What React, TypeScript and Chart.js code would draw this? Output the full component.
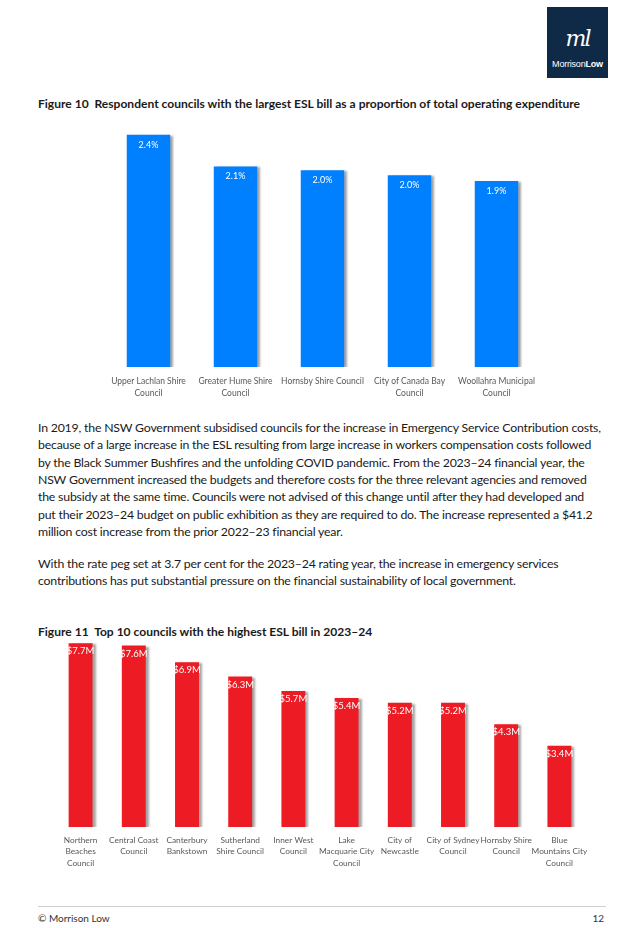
import React, { useEffect, useRef } from "react";
import { Chart, registerables } from "chart.js";

Chart.register(...registerables);

const ratioCategories: string[][] = [
  ["Upper Lachlan Shire", "Council"],
  ["Greater Hume Shire", "Council"],
  ["Hornsby Shire Council"],
  ["City of Canada Bay", "Council"],
  ["Woollahra Municipal", "Council"],
];
const ratioValues: number[] = [2.41, 2.08, 2.04, 1.99, 1.93];

const eslCategories: string[][] = [
  ["Northern", "Beaches", "Council"],
  ["Central Coast", "Council"],
  ["Canterbury", "Bankstown"],
  ["Sutherland", "Shire Council"],
  ["Inner West", "Council"],
  ["Lake", "Macquarie City", "Council"],
  ["City of", "Newcastle"],
  ["City of Sydney", "Council"],
  ["Hornsby Shire", "Council"],
  ["Blue", "Mountains City", "Council"],
];
const eslValues: number[] = [7.7, 7.6, 6.9, 6.3, 5.7, 5.4, 5.2, 5.2, 4.3, 3.4];

const paragraph1: string[] = [
  "In 2019, the NSW Government subsidised councils for the increase in Emergency Service Contribution costs,",
  "because of a large increase in the ESL resulting from large increase in workers compensation costs followed",
  "by the Black Summer Bushfires and the unfolding COVID pandemic. From the 2023\u201324 financial year, the",
  "NSW Government increased the budgets and therefore costs for the three relevant agencies and removed",
  "the subsidy at the same time. Councils were not advised of this change until after they had developed and",
  "put their 2023\u201324 budget on public exhibition as they are required to do. The increase represented a $41.2",
  "million cost increase from the prior 2022\u201323 financial year.",
];
const paragraph2: string[] = [
  "With the rate peg set at 3.7 per cent for the 2023\u201324 rating year, the increase in emergency services",
  "contributions has put substantial pressure on the financial sustainability of local government.",
];

const FONT = "Lato, 'Open Sans', sans-serif";

type BarProps = {
  labels: string[][];
  values: number[];
  color: string;
  yMax: number;
  format: (v: number) => string;
  top: number;
  plotHeight: number;
  axisHeight: number;
  padLeft: number;
  padRight: number;
  barPct: number;
  tickSize: number;
  tickPadding: number;
  valueSize: number;
  valueOffset: number;
};

function BarChart(p: BarProps) {
  const ref = useRef<HTMLCanvasElement>(null);
  useEffect(() => {
    if (!ref.current) return;
    const shadowAndLabels = {
      id: "shadowAndLabels",
      beforeDatasetsDraw(chart: any) {
        const ctx = chart.ctx;
        ctx.save();
        ctx.shadowColor = "rgba(0,0,0,0.35)";
        ctx.shadowOffsetX = 3;
        ctx.shadowOffsetY = 1;
        ctx.shadowBlur = 2;
      },
      afterDatasetsDraw(chart: any) {
        const ctx = chart.ctx;
        ctx.restore();
        const meta = chart.getDatasetMeta(0);
        ctx.save();
        ctx.fillStyle = "#ffffff";
        ctx.font = `${p.valueSize}px ${FONT}`;
        ctx.textAlign = "center";
        ctx.textBaseline = "middle";
        meta.data.forEach((bar: any, i: number) => {
          ctx.fillText(p.format(p.values[i]), bar.x, bar.y + p.valueOffset);
        });
        ctx.restore();
      },
    };
    const chart = new Chart(ref.current, {
      type: "bar",
      data: {
        labels: p.labels,
        datasets: [
          {
            data: p.values,
            backgroundColor: p.color,
            borderWidth: 0,
            categoryPercentage: 1,
            barPercentage: p.barPct,
          },
        ],
      },
      options: {
        responsive: false,
        animation: false,
        devicePixelRatio: 1,
        layout: { padding: { left: p.padLeft, right: p.padRight, top: 0, bottom: 0 } },
        plugins: { legend: { display: false }, tooltip: { enabled: false } },
        scales: {
          y: { display: false, min: 0, max: p.yMax },
          x: {
            grid: { display: false },
            border: { display: false },
            ticks: {
              color: "#595959",
              font: { family: FONT, size: p.tickSize, lineHeight: 1.35 },
              padding: p.tickPadding,
              maxRotation: 0,
              autoSkip: false,
            },
            afterFit: (scale: any) => {
              scale.height = p.axisHeight;
            },
          },
        },
      },
      plugins: [shadowAndLabels],
    } as any);
    return () => chart.destroy();
  }, []);
  const h = p.plotHeight + p.axisHeight;
  return (
    <canvas
      ref={ref}
      width={640}
      height={h}
      style={{ position: "absolute", left: 0, top: p.top, width: 640, height: h }}
    />
  );
}

const textStyle: React.CSSProperties = {
  position: "absolute",
  left: 38,
  whiteSpace: "nowrap",
  fontSize: 12.3,
  letterSpacing: -0.2,
  lineHeight: "17px",
  color: "#1a1a1a",
  fontFamily: FONT,
};

export default function App() {
  return (
    <div
      style={{
        position: "fixed",
        left: 0,
        top: 0,
        width: 640,
        height: 928,
        background: "#ffffff",
        fontFamily: FONT,
        overflow: "hidden",
      }}
    >
      {/* logo */}
      <div
        style={{
          position: "absolute",
          left: 547,
          top: 7,
          width: 61,
          height: 71,
          background: "#0f2a47",
          color: "#ffffff",
          textAlign: "center",
        }}
      >
        <div
          style={{
            position: "absolute",
            left: 0,
            width: 61,
            top: 20,
            fontFamily: "'DejaVu Serif', serif",
            fontStyle: "italic",
            fontSize: 22,
            lineHeight: "24px",
            letterSpacing: -2,
          }}
        >
          ml
        </div>
        <div
          style={{
            position: "absolute",
            left: 0,
            width: 61,
            top: 52,
            fontSize: 9,
            lineHeight: "10px",
            letterSpacing: -0.2,
            fontFamily: "'Liberation Sans', sans-serif",
          }}
        >
          Morrison<b>Low</b>
        </div>
      </div>

      <div style={{ ...textStyle, top: 95, fontWeight: 700, fontSize: 12.05, letterSpacing: 0 }}>
        Figure 10&nbsp;&nbsp;Respondent councils with the largest ESL bill as a proportion of total operating expenditure
      </div>

      <BarChart
        labels={ratioCategories}
        values={ratioValues}
        color="#0080ff"
        yMax={2.5}
        format={(v) => v.toFixed(1) + "%"}
        top={126}
        plotHeight={241}
        axisHeight={40}
        padLeft={105}
        padRight={100}
        barPct={0.5}
        tickSize={8.5}
        tickPadding={1}
        valueSize={9}
        valueOffset={10}
      />

      {paragraph1.map((line, i) => (
        <div key={"p1" + i} style={{ ...textStyle, top: 419 + i * 17.3 }}>
          {line}
        </div>
      ))}
      {paragraph2.map((line, i) => (
        <div key={"p2" + i} style={{ ...textStyle, top: 555 + i * 17.3 }}>
          {line}
        </div>
      ))}

      <div style={{ ...textStyle, top: 623, fontWeight: 700, fontSize: 12.05, letterSpacing: 0 }}>
        Figure 11&nbsp;&nbsp;Top 10 councils with the highest ESL bill in 2023&ndash;24
      </div>

      <BarChart
        labels={eslCategories}
        values={eslValues}
        color="#ed1c24"
        yMax={8}
        format={(v) => "$" + v.toFixed(1) + "M"}
        top={636}
        plotHeight={191}
        axisHeight={46}
        padLeft={54}
        padRight={54}
        barPct={0.45}
        tickSize={8.3}
        tickPadding={0}
        valueSize={9.5}
        valueOffset={8}
      />

      <div
        style={{
          position: "absolute",
          left: 38,
          top: 906,
          width: 568,
          height: 1,
          background: "#d0d0d0",
        }}
      />
      <div style={{ ...textStyle, top: 911, fontSize: 10, lineHeight: "14px", color: "#333", letterSpacing: 0 }}>
        &copy; Morrison Low
      </div>
      <div
        style={{
          position: "absolute",
          right: 36,
          top: 911,
          fontSize: 10,
          lineHeight: "14px",
          color: "#333",
          fontFamily: FONT,
        }}
      >
        12
      </div>
    </div>
  );
}
